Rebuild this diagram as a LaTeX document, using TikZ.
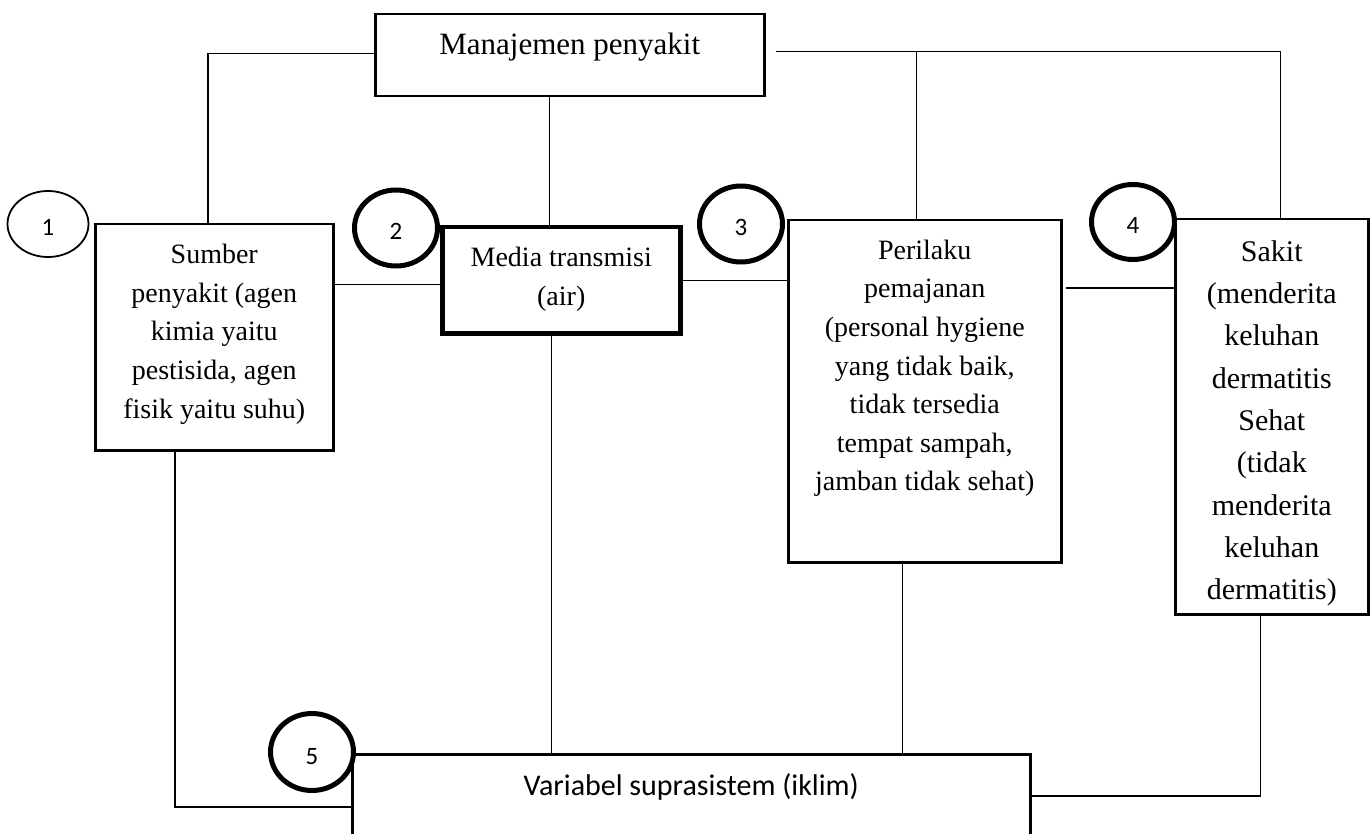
\documentclass[tikz,border=0pt]{standalone}
\usepackage{fontspec}
\setmainfont{Liberation Serif}
\newfontfamily\calibri{Carlito}
\usetikzlibrary{shapes.geometric,calc}
\tikzset{
  boxnode/.style={draw, line width=2.5pt, rectangle, inner sep=0pt, anchor=north west},
  thickbox/.style={boxnode, line width=4.5pt},
  conn/.style={line width=1.3pt},
  numcirc/.style={draw, ellipse, inner sep=0pt, line width=5pt, font=\calibri\fontsize{25}{30}\selectfont, text height=24pt, text depth=0pt},
  thincirc/.style={numcirc, line width=1.8pt}
}
\newcommand{\bx}[4]{\parbox[c][#2][t]{#1}{\centering\rule{0pt}{#3}#4}}
\begin{document}
\begin{tikzpicture}[x=1pt,y=-1pt]
\clip (0,0) rectangle (1370,834);
\fill[white] (0,0) rectangle (1370,834);

% boxes
\node[boxnode] (mgmt) at (374,13) {\fontsize{31}{40}\selectfont\bx{389pt}{82pt}{40pt}{Manajemen penyakit}};
\node[boxnode] (sumber) at (94,223) {\fontsize{28}{38.8}\selectfont\bx{238pt}{226pt}{39pt}{Sumber\\penyakit (agen\\kimia yaitu\\pestisida, agen\\fisik yaitu suhu)}};
\node[thickbox] (media) at (440,225) {\fontsize{28}{39}\selectfont\bx{238pt}{106pt}{39pt}{Media transmisi\\(air)}};
\node[boxnode] (perilaku) at (787,219) {\fontsize{28}{38.6}\selectfont\bx{273pt}{342pt}{39pt}{Perilaku\\pemajanan\\(personal hygiene\\yang tidak baik,\\tidak tersedia\\tempat sampah,\\jamban tidak sehat)}};
\node[boxnode] (sakit) at (1174,218) {\fontsize{30}{42.3}\selectfont\bx{193pt}{395pt}{42pt}{Sakit\\(menderita\\keluhan\\dermatitis\\Sehat\\(tidak\\menderita\\keluhan\\dermatitis)}};
\node[boxnode] (variabel) at (351,753) {\calibri\fontsize{30}{36}\selectfont\bx{678pt}{120pt}{41pt}{Variabel suprasistem (iklim)}};

% circles
\node[thincirc, minimum width=81pt, minimum height=66pt] (c1) at (48,224) {1};
\node[numcirc, minimum width=83pt, minimum height=76pt] (c2) at (396,228) {2};
\node[numcirc, minimum width=83pt, minimum height=76pt] (c3) at (741,224) {3};
\node[numcirc, minimum width=83pt, minimum height=75pt] (c4) at (1133,222) {4};
\node[numcirc, minimum width=83pt, minimum height=77pt] (c5) at (312,752) {5};

% connectors
\draw[conn] ([yshift=2pt]mgmt.west) -| ([xshift=114pt]sumber.north west);
\draw[conn] ([xshift=-20pt]mgmt.south) -- ([xshift=-20pt]mgmt.south |- media.north);
\coordinate (tr) at ([xshift=10pt,yshift=4pt]mgmt.east);
\draw[conn] (tr) -| ([xshift=9pt]sakit.north);
\draw[conn] ([xshift=-8.5pt]perilaku.north) -- ([xshift=-8.5pt]perilaku.north |- tr);
\draw[conn] ([yshift=53pt]sumber.east) -- ([yshift=53pt]sumber.east -| media.west);
\draw[conn] (media.east) -- (media.east -| perilaku.west);
\draw[conn] ([xshift=3pt,yshift=-69pt]perilaku.north east) -- ([xshift=3pt,yshift=-69pt]perilaku.north east -| sakit.west);
\draw[conn] ([xshift=81pt]sumber.south west) |- ([yshift=-54pt]variabel.north west);
\draw[conn] ([xshift=-10pt]media.south) -- ([xshift=-10pt]media.south |- variabel.north);
\draw[conn] ([xshift=-22pt]perilaku.south) -- ([xshift=-22pt]perilaku.south |- variabel.north);
\draw[conn] ([yshift=-43pt]variabel.north east) -| ([xshift=-11.5pt]sakit.south);
\end{tikzpicture}
\end{document}
